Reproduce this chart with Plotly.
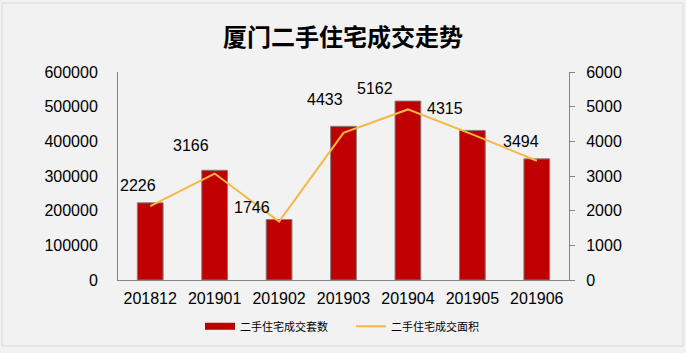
import plotly.graph_objects as go

categories = ["201812", "201901", "201902", "201903", "201904", "201905", "201906"]
counts = [2226, 3166, 1746, 4433, 5162, 4315, 3494]
areas = [213000, 307000, 168500, 424500, 492000, 420000, 344000]
count_name = "二手住宅成交套数"
area_name = "二手住宅成交面积"
title = "厦门二手住宅成交走势"
left_ticks = [0, 100000, 200000, 300000, 400000, 500000, 600000]
right_ticks = [0, 1000, 2000, 3000, 4000, 5000, 6000]

# label offsets (px) relative to bar top
label_dx = [-12, -24, -27, -19, -33, -27, -16]
label_dy = [17, 25, 12, 27, 13, 22, 17]

fig = go.Figure()
fig.add_trace(go.Bar(
    x=categories, y=counts, name=count_name, yaxis="y", showlegend=False,
    marker=dict(color="#c00000", line=dict(color="#808080", width=1)),
))
# legend entry for bars (wide rectangle look)
fig.add_trace(go.Scatter(
    x=[None], y=[None], name=count_name, yaxis="y", mode="lines",
    line=dict(color="#c00000", width=7),
))
fig.add_trace(go.Scatter(
    x=categories, y=areas, name=area_name, yaxis="y2", mode="lines",
    line=dict(color="#f6b845", width=2),
))

ann = []
for i, (v, dx, dy) in enumerate(zip(counts, label_dx, label_dy)):
    ann.append(dict(x=i, y=v, xref="x", yref="y", text=str(v), showarrow=False,
                    xshift=dx, yshift=dy, font=dict(size=16, color="#000000",
                    family="Liberation Sans, Arial")))

axis_font = dict(size=16, color="#000000", family="Liberation Sans, Arial")
fig.update_layout(
    width=686, height=353,
    margin=dict(l=118, r=117, t=72, b=70),
    paper_bgcolor="#f2f2f2", plot_bgcolor="#f2f2f2",
    title=dict(text="<b>" + title + "</b>", x=0.5, xanchor="center", y=1 - 38 / 353,
               yanchor="middle", yref="container",
               font=dict(size=24, color="#000000", family="Noto Sans CJK SC")),
    bargap=0.6,
    showlegend=True,
    legend=dict(orientation="h", x=(200 - 118) / 451, xanchor="left",
                y=(283 - 330) / 211, yanchor="middle",
                entrywidth=106, entrywidthmode="pixels",
                font=dict(size=11, color="#000000", family="Noto Sans CJK SC"),
                bgcolor="rgba(0,0,0,0)"),
    xaxis=dict(type="category", range=[-0.5, len(categories) - 0.5], showline=True,
               linecolor="#868686", linewidth=1, ticks="",
               tickfont=axis_font, showgrid=False, zeroline=False,
               ticklabelstandoff=4),
    yaxis=dict(side="right", range=[0, 6000], tickvals=right_ticks, showline=True,
               linecolor="#868686", linewidth=1, ticks="outside", ticklen=5,
               tickcolor="#868686", tickfont=axis_font, showgrid=False, zeroline=False,
               ticklabelstandoff=8),
    yaxis2=dict(side="left", overlaying="y", range=[0, 600000], tickvals=left_ticks,
                tickformat="d", showline=True, linecolor="#868686", linewidth=1,
                ticks="", tickfont=axis_font, showgrid=False, zeroline=False,
                ticklabelstandoff=16),
    annotations=ann,
    shapes=[dict(type="rect", xref="paper", yref="paper",
                 x0=(2 - 118) / 451, x1=(683 - 118) / 451,
                 y0=(283 - 350) / 211, y1=(283 - 2) / 211,
                 line=dict(color="#d9d9d9", width=1), fillcolor="rgba(0,0,0,0)",
                 layer="below")],
)
fig.write_html("out.html")
